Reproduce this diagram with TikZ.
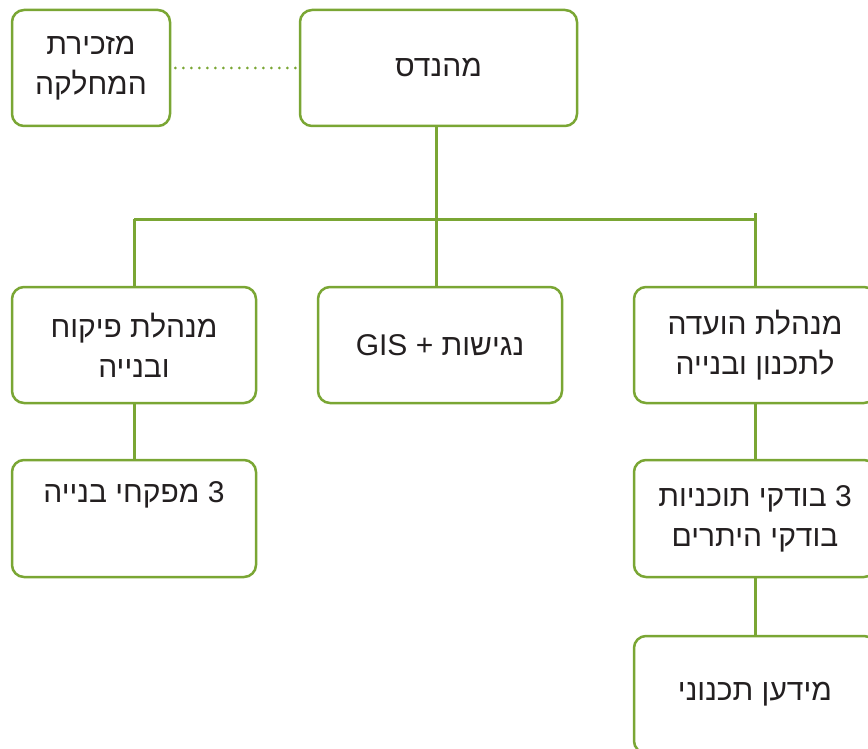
\documentclass[tikz,border=0pt]{standalone}
\usepackage{fontspec}
\TeXXeTstate=1
\newfontfamily\hebfont[Script=Hebrew]{Liberation Sans}
\newcommand{\hebtxt}[1]{\beginR #1\endR}
\definecolor{boxgreen}{RGB}{122,166,52}
\definecolor{txtgray}{RGB}{35,31,32}
\begin{document}
\begin{tikzpicture}[x=1pt,y=-1pt,
  orgbox/.style={draw=boxgreen, line width=2.5pt, rounded corners=12pt, fill=white,
    align=center, text=txtgray, inner sep=0pt,
    font=\hebfont\fontsize{30}{40}\selectfont},
  link/.style={draw=boxgreen, line width=3pt},
  dots/.style={draw=boxgreen, line width=3pt, line cap=round, dash pattern=on 0pt off 8pt}]
\useasboundingbox (0,0) rectangle (868,749);
\node[orgbox, minimum width=158pt, minimum height=116pt] (sec) at (91,68) {\hebtxt{מזכירת}\\\hebtxt{המחלקה}};
\node[orgbox, minimum width=277pt, minimum height=116pt] (eng) at (438.5,68) {\hebtxt{מהנדס}};
\node[orgbox, minimum width=244pt, minimum height=116pt] (sup) at (134,345) {\hebtxt{מנהלת פיקוח}\\\hebtxt{ובנייה}};
\node[orgbox, minimum width=244pt, minimum height=116pt] (gis) at (440,345) {\hebtxt{נגישות + \beginL GIS\endL}};
\node[orgbox, minimum width=242pt, minimum height=116pt] (cmt) at (755,345) {\hebtxt{מנהלת הועדה}\\\hebtxt{לתכנון ובנייה}};
\node[orgbox, minimum width=244pt, minimum height=117pt] (insp) at (134,518.5) {\hebtxt{3 מפקחי בנייה}\\\strut};
\node[orgbox, minimum width=242pt, minimum height=117pt] (chk) at (755,518.5) {\hebtxt{3 בודקי תוכניות}\\\hebtxt{בודקי היתרים}};
\node[orgbox, minimum width=242pt, minimum height=117pt] (info) at (755,694.5) {\hebtxt{מידען תכנוני}};
\coordinate (busmid) at (436,219);
\coordinate (busleft) at (134,219);
\coordinate (busright) at (755,219);
\coordinate (busrighttop) at (755,213);
\draw[dots] ([xshift=4pt]sec.east) -- ([xshift=-3pt]eng.west);
\draw[link] (eng.south -| busmid) -- (busmid);
\draw[link] (busleft) -- (busright);
\draw[link] (busleft) -- (sup.north);
\draw[link] (busmid) -- (busmid |- gis.north);
\draw[link] (busrighttop) -- (cmt.north);
\draw[link] (sup.south) -- (insp.north);
\draw[link] (cmt.south) -- (chk.north);
\draw[link] (chk.south) -- (info.north);
\end{tikzpicture}
\end{document}
